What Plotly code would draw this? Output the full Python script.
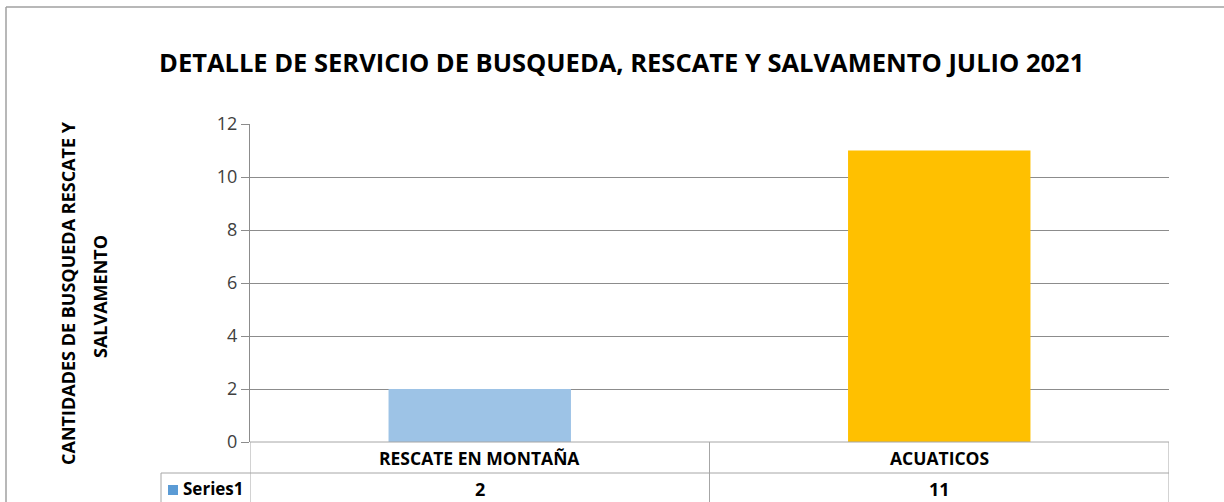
import plotly.graph_objects as go

categories = ["RESCATE EN MONTAÑA", "ACUATICOS"]
values = [2, 11]
bar_colors = ["#9DC3E6", "#FFC000"]
series_name = "Series1"
y_ticks = [0, 2, 4, 6, 8, 10, 12]
title = "DETALLE DE SERVICIO DE BUSQUEDA, RESCATE Y SALVAMENTO JULIO 2021"
y_title_lines = ["CANTIDADES DE BUSQUEDA RESCATE Y", "SALVAMENTO"]

W, H = 1224, 502
L, R, T, B = 250, 1169, 124, 442
PW, PH = R - L, B - T

def px(x):
    return (x - L) / PW

def py(y):
    return (B - y) / PH

FONT = "Open Sans"

fig = go.Figure()
fig.add_trace(go.Bar(
    x=list(range(len(categories))), y=values,
    marker=dict(color=bar_colors, line=dict(width=0)),
    width=0.397, name=series_name, showlegend=False,
))

shapes = []
line = dict(color="#A6A6A6", width=1)
# outer chart border
shapes.append(dict(type="line", xref="paper", yref="paper", x0=px(6), x1=px(1230), y0=py(7), y1=py(7), line=dict(color="#A0A0A0", width=1.5)))
shapes.append(dict(type="line", xref="paper", yref="paper", x0=px(6), x1=px(6), y0=py(7), y1=py(510), line=dict(color="#A0A0A0", width=1.5)))
# data table
n = len(categories)
for i in range(n + 1):
    shapes.append(dict(type="line", xref="x", yref="paper", x0=i - 0.5, x1=i - 0.5, y0=py(442), y1=py(510), line=line))
shapes.append(dict(type="line", xref="paper", yref="paper", x0=px(161), x1=px(161), y0=py(473), y1=py(510), line=line))
shapes.append(dict(type="line", xref="paper", yref="paper", x0=px(161), x1=1, y0=py(473), y1=py(473), line=line))
shapes.append(dict(type="line", xref="paper", yref="paper", x0=0, x1=1, y0=0, y1=0, line=line))
# legend key
shapes.append(dict(type="rect", xref="paper", yref="paper", x0=px(168), x1=px(178), y0=py(495), y1=py(485), fillcolor="#5B9BD5", line=dict(width=0)))

annotations = []
for i, c in enumerate(categories):
    annotations.append(dict(x=i, y=py(458), xref="x", yref="paper", text=f"<b>{c}</b>", showarrow=False,
                            font=dict(family=FONT, size=17.5, color="#000000"), xanchor="center", yanchor="middle"))
    annotations.append(dict(x=i, y=py(489), xref="x", yref="paper", text=f"<b>{values[i]}</b>", showarrow=False,
                            font=dict(family=FONT, size=18, color="#000000"), xanchor="center", yanchor="middle"))
annotations.append(dict(x=px(181), y=py(488), xref="paper", yref="paper", text=f"<b>{series_name}</b>", showarrow=False,
                        font=dict(family=FONT, size=17, color="#000000"), xanchor="left", yanchor="middle"))
for xline, yc, txt in zip([68, 100], [293, 297], y_title_lines):
    annotations.append(dict(x=px(xline), y=py(yc), xref="paper", yref="paper", text=f"<b>{txt}</b>", showarrow=False,
                            textangle=-90, font=dict(family=FONT, size=18, color="#000000"),
                            xanchor="center", yanchor="middle"))
annotations.append(dict(x=px(621), y=py(62), xref="paper", yref="paper", text=f"<b>{title}</b>", showarrow=False,
                        font=dict(family=FONT, size=25.5, color="#000000"), xanchor="center", yanchor="middle"))

fig.update_layout(
    width=W, height=H,
    margin=dict(l=L, r=W - R, t=T, b=H - B, pad=0),
    paper_bgcolor="white", plot_bgcolor="white",
    xaxis=dict(range=[-0.5, n - 0.5], showticklabels=False, showgrid=False, zeroline=False,
               showline=False, ticks=""),
    yaxis=dict(range=[0, 12], tickvals=y_ticks, showgrid=True, gridcolor="#8C8C8C", gridwidth=1,
               zeroline=False, showline=True, linecolor="#8C8C8C", linewidth=1,
               ticks="outside", ticklen=8, tickcolor="#8C8C8C",
               tickfont=dict(family=FONT, size=18, color="#404040")),
    shapes=shapes, annotations=annotations,
    bargap=0.6,
)

fig.write_html("out.html")
